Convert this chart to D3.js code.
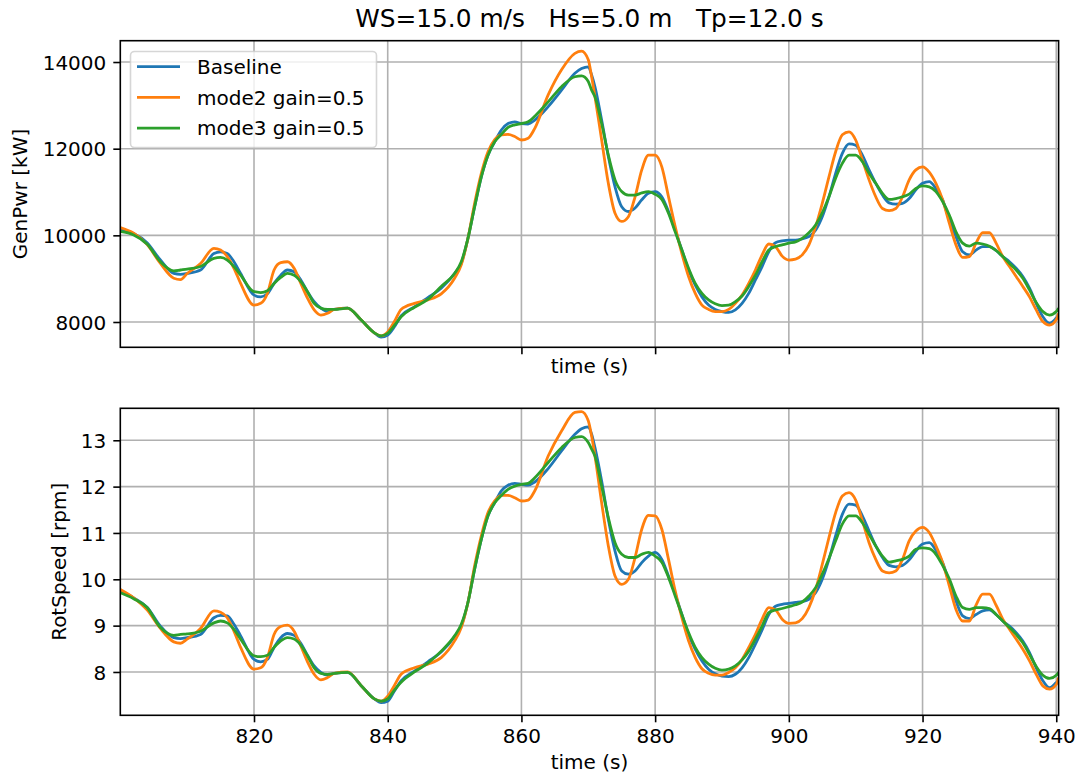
<!DOCTYPE html>
<html lang="en">
<head>
    <meta charset="UTF-8">
    <title>GenPwr / RotSpeed</title>
    <script src="https://cdn.jsdelivr.net/npm/d3@7/dist/d3.min.js"></script>
    <style>
        body {margin: 0; background: #fff;}
        svg text {font-family: "DejaVu Sans", sans-serif; fill: #000;}
    </style>
</head>
<body>

<svg width="1081" height="778"></svg>

<script>

    //数据
    var time = [
        800, 802, 804, 806, 808, 809, 810, 812, 814, 815,
        816, 817, 818, 820, 821, 822, 823, 824, 825, 826,
        827, 828, 829, 830, 831, 832, 834, 836, 838, 839,
        840, 841, 842, 844, 846, 848, 850, 851, 852, 853,
        854, 855, 856, 857, 858, 859, 860, 861, 862, 864,
        866, 868, 869, 870, 870.5, 871, 872, 873, 874, 875,
        876, 877, 878, 879, 880, 881, 882, 883, 884, 885,
        886, 887, 888, 889, 890, 891, 892, 893, 894, 895,
        896, 897, 898, 899, 900, 901, 902, 903, 904, 905,
        906, 907, 908, 909, 910, 911, 912, 913, 914, 915,
        916, 917, 918, 919, 920, 921, 922, 923, 924, 925,
        926, 927, 928, 929, 930, 931, 932, 933, 934, 935,
        936, 937, 938, 939, 940, 940.35
    ];

    var genBase = [
        10130, 10040, 9830, 9430, 9120, 9100, 9120, 9200, 9580, 9620,
        9580, 9390, 9120, 8620, 8580, 8650, 8890, 9080, 9200, 9160,
        8970, 8700, 8470, 8320, 8240, 8290, 8320, 8050, 7750, 7650,
        7700, 7890, 8140, 8350, 8560, 8780, 9120, 9350, 9930, 10660,
        11350, 11850, 12160, 12430, 12580, 12620, 12580, 12570, 12660, 12970,
        13350, 13740, 13850, 13890, 13700, 13430, 12660, 11820, 11120, 10660,
        10550, 10630, 10820, 10970, 11010, 10890, 10550, 10120, 9660, 9200,
        8850, 8580, 8390, 8290, 8240, 8220, 8280, 8430, 8660, 8970,
        9280, 9620, 9830, 9870, 9890, 9890, 9920, 9970, 10120, 10430,
        10890, 11430, 11890, 12110, 12080, 11850, 11510, 11200, 10930, 10750,
        10720, 10740, 10850, 11050, 11200, 11240, 11080, 10820, 10350, 9970,
        9620, 9550, 9660, 9740, 9740, 9650, 9510, 9390, 9240, 9050,
        8780, 8430, 8120, 7970, 8090, 8150
    ];
    var genMode2 = [
        10180, 10050, 9790, 9350, 9010, 8980, 9120, 9350, 9700, 9660,
        9510, 9240, 8890, 8390, 8430, 8660, 9200, 9370, 9390, 9240,
        8890, 8550, 8280, 8160, 8200, 8290, 8320, 8050, 7750, 7680,
        7770, 8010, 8290, 8430, 8510, 8650, 9010, 9320, 9930, 10740,
        11430, 11930, 12210, 12320, 12330, 12280, 12200, 12240, 12470, 13240,
        13820, 14200, 14250, 14050, 13660, 13200, 12200, 11200, 10510, 10320,
        10430, 10890, 11510, 11850, 11850, 11580, 10890, 10200, 9580, 9050,
        8660, 8390, 8290, 8240, 8240, 8290, 8430, 8620, 8890, 9200,
        9550, 9800, 9740, 9520, 9430, 9450, 9550, 9780, 10200, 10740,
        11350, 11930, 12320, 12390, 12200, 11740, 11280, 10890, 10620, 10570,
        10620, 10890, 11280, 11510, 11580, 11460, 11200, 10820, 10280, 9780,
        9490, 9510, 9820, 10060, 10060, 9820, 9510, 9280, 9050, 8820,
        8580, 8280, 8010, 7930, 8050, 8200
    ];
    var genMode3 = [
        10090, 10010, 9800, 9390, 9180, 9200, 9220, 9280, 9470, 9490,
        9430, 9280, 9080, 8700, 8680, 8720, 8890, 9030, 9120, 9080,
        8930, 8700, 8430, 8320, 8290, 8290, 8320, 8050, 7750, 7680,
        7740, 7920, 8120, 8340, 8520, 8820, 9120, 9390, 9930, 10660,
        11350, 11850, 12160, 12330, 12490, 12550, 12580, 12620, 12750, 13080,
        13430, 13660, 13680, 13550, 13350, 13200, 12580, 11850, 11280, 11010,
        10930, 10930, 10980, 11010, 10950, 10830, 10510, 10080, 9660, 9240,
        8890, 8660, 8510, 8420, 8380, 8390, 8470, 8600, 8820, 9080,
        9390, 9660, 9740, 9780, 9820, 9850, 9930, 10060, 10240, 10520,
        10890, 11320, 11660, 11850, 11850, 11700, 11430, 11200, 10970, 10830,
        10850, 10890, 10950, 11080, 11140, 11120, 11010, 10780, 10470, 10080,
        9820, 9750, 9820, 9800, 9750, 9650, 9510, 9350, 9200, 9010,
        8740, 8450, 8240, 8160, 8240, 8320
    ];

    var rotBase = [
        9.75, 9.60, 9.40, 8.99, 8.74, 8.72, 8.74, 8.81, 9.17, 9.22,
        9.21, 9.03, 8.78, 8.27, 8.22, 8.27, 8.53, 8.74, 8.83, 8.79,
        8.62, 8.36, 8.13, 7.99, 7.93, 7.97, 7.99, 7.71, 7.42, 7.34,
        7.37, 7.59, 7.81, 8.02, 8.22, 8.43, 8.76, 8.99, 9.50, 10.22,
        10.86, 11.37, 11.65, 11.91, 12.03, 12.07, 12.05, 12.03, 12.10, 12.39,
        12.77, 13.13, 13.25, 13.29, 13.13, 12.84, 12.12, 11.29, 10.61, 10.18,
        10.11, 10.18, 10.36, 10.50, 10.58, 10.43, 10.07, 9.68, 9.24, 8.81,
        8.49, 8.24, 8.06, 7.96, 7.91, 7.90, 7.95, 8.09, 8.31, 8.60,
        8.91, 9.24, 9.42, 9.46, 9.48, 9.50, 9.52, 9.57, 9.71, 10.00,
        10.43, 10.94, 11.40, 11.62, 11.60, 11.37, 11.04, 10.72, 10.47, 10.30,
        10.27, 10.30, 10.42, 10.61, 10.76, 10.79, 10.63, 10.36, 9.93, 9.53,
        9.21, 9.15, 9.24, 9.32, 9.34, 9.24, 9.10, 8.99, 8.85, 8.67,
        8.42, 8.09, 7.81, 7.66, 7.77, 7.81
    ];
    var rotMode2 = [
        9.78, 9.60, 9.34, 8.94, 8.65, 8.62, 8.71, 8.94, 9.32, 9.29,
        9.17, 8.88, 8.53, 8.06, 8.09, 8.31, 8.81, 8.98, 9.01, 8.88,
        8.56, 8.22, 7.95, 7.83, 7.88, 7.97, 8.00, 7.71, 7.42, 7.37,
        7.48, 7.71, 7.95, 8.09, 8.17, 8.31, 8.67, 8.96, 9.50, 10.29,
        10.94, 11.44, 11.69, 11.81, 11.81, 11.76, 11.69, 11.71, 11.91, 12.66,
        13.20, 13.60, 13.62, 13.42, 13.09, 12.66, 11.65, 10.72, 10.07, 9.89,
        10.00, 10.47, 11.08, 11.38, 11.37, 11.08, 10.43, 9.75, 9.17, 8.67,
        8.31, 8.07, 7.97, 7.93, 7.93, 7.99, 8.09, 8.27, 8.53, 8.81,
        9.14, 9.39, 9.34, 9.14, 9.05, 9.06, 9.15, 9.39, 9.78, 10.32,
        10.90, 11.44, 11.80, 11.87, 11.71, 11.26, 10.79, 10.43, 10.18, 10.14,
        10.18, 10.43, 10.83, 11.04, 11.12, 11.01, 10.72, 10.36, 9.86, 9.35,
        9.10, 9.10, 9.44, 9.68, 9.68, 9.44, 9.14, 8.92, 8.71, 8.49,
        8.24, 7.95, 7.70, 7.63, 7.73, 7.88
    ];
    var rotMode3 = [
        9.71, 9.58, 9.39, 8.96, 8.79, 8.81, 8.82, 8.88, 9.06, 9.10,
        9.06, 8.92, 8.71, 8.35, 8.33, 8.36, 8.53, 8.67, 8.74, 8.71,
        8.58, 8.35, 8.09, 7.97, 7.95, 7.97, 7.99, 7.71, 7.42, 7.37,
        7.42, 7.61, 7.78, 8.00, 8.19, 8.45, 8.78, 9.03, 9.50, 10.22,
        10.86, 11.37, 11.65, 11.81, 11.94, 12.01, 12.05, 12.07, 12.19, 12.52,
        12.84, 13.06, 13.08, 12.95, 12.81, 12.66, 12.01, 11.33, 10.79, 10.54,
        10.47, 10.47, 10.54, 10.58, 10.50, 10.37, 10.04, 9.64, 9.24, 8.85,
        8.53, 8.31, 8.17, 8.08, 8.04, 8.06, 8.13, 8.26, 8.45, 8.71,
        8.99, 9.28, 9.34, 9.37, 9.41, 9.45, 9.51, 9.64, 9.82, 10.11,
        10.45, 10.83, 11.19, 11.37, 11.37, 11.22, 10.97, 10.72, 10.50, 10.37,
        10.40, 10.43, 10.50, 10.65, 10.68, 10.66, 10.54, 10.30, 10.01, 9.64,
        9.39, 9.35, 9.39, 9.39, 9.37, 9.24, 9.10, 8.96, 8.81, 8.63,
        8.38, 8.12, 7.93, 7.86, 7.93, 7.99
    ];

    var seriesNames = ["Baseline", "mode2 gain=0.5", "mode3 gain=0.5"];
    var seriesColors = ["#1f77b4", "#ff7f0e", "#2ca02c"];
    var xTicks = [820, 840, 860, 880, 900, 920, 940];
    var genTicks = [8000, 10000, 12000, 14000];
    var rotTicks = [8, 9, 10, 11, 12, 13];
    var titleText = "WS=15.0 m/s   Hs=5.0 m   Tp=12.0 s";

    var svg = d3.select("svg");
    var left = 120.3, right = 1058.6;

    var x = d3.scaleLinear().domain([800, 940.35]).range([left, right]);

    //标题
    svg.append("text")
        .attr("x", (left + right) / 2)
        .attr("y", 27)
        .attr("text-anchor", "middle")
        .style("white-space", "pre")
        .style("font-size", "24.8px")
        .text(titleText);

    function drawPanel(id, top, bottom, yDomain, yTicks, yLabel, yLabelX, lines, showXLabels, showLegend) {
        var y = d3.scaleLinear().domain(yDomain).range([bottom, top]);
        var g = svg.append("g");

        g.append("clipPath").attr("id", "clip" + id)
            .append("rect")
            .attr("x", left).attr("y", top)
            .attr("width", right - left).attr("height", bottom - top);

        //网格
        var grid = g.append("g").attr("stroke", "#b0b0b0").attr("stroke-width", 1.6);
        grid.selectAll(".vx").data(xTicks).enter().append("line")
            .attr("x1", function (d) { return x(d); }).attr("x2", function (d) { return x(d); })
            .attr("y1", top).attr("y2", bottom);
        grid.selectAll(".hy").data(yTicks).enter().append("line")
            .attr("x1", left).attr("x2", right)
            .attr("y1", function (d) { return y(d); }).attr("y2", function (d) { return y(d); });

        //曲线
        var line = d3.line()
            .x(function (d, i) { return x(time[i]); })
            .y(function (d) { return y(d); })
            .curve(d3.curveMonotoneX);

        g.append("g").attr("clip-path", "url(#clip" + id + ")")
            .selectAll("path")
            .data(lines)
            .enter()
            .append("path")
            .attr("d", function (d) { return line(d); })
            .attr("fill", "none")
            .attr("stroke", function (d, i) { return seriesColors[i]; })
            .attr("stroke-width", 2.8)
            .attr("stroke-linejoin", "round");

        //坐标轴
        var xAxis = d3.axisBottom(x).tickValues(xTicks).tickSize(7).tickSizeOuter(0).tickPadding(7)
            .tickFormat(showXLabels ? d3.format("d") : function () { return ""; });
        var yAxis = d3.axisLeft(y).tickValues(yTicks).tickSize(7).tickSizeOuter(0).tickPadding(7)
            .tickFormat(d3.format("d"));

        var gx = g.append("g").attr("transform", "translate(0," + bottom + ")").call(xAxis);
        var gy = g.append("g").attr("transform", "translate(" + left + ",0)").call(yAxis);
        [gx, gy].forEach(function (a) {
            a.select(".domain").remove();
            a.selectAll(".tick line").attr("stroke", "#000").attr("stroke-width", 1.6);
            a.selectAll(".tick text").attr("fill", "#000")
                .style("font-size", "20px").style("font-family", "DejaVu Sans, sans-serif");
        });
        gy.selectAll(".tick text").attr("dy", "0.36em");

        //边框
        g.append("rect")
            .attr("x", left).attr("y", top)
            .attr("width", right - left).attr("height", bottom - top)
            .attr("fill", "none").attr("stroke", "#000").attr("stroke-width", 1.6);

        g.append("text")
            .attr("x", (left + right) / 2)
            .attr("y", bottom + (showXLabels ? 54 : 26))
            .attr("text-anchor", "middle")
            .style("font-size", "20px")
            .text("time (s)");

        g.append("text")
            .attr("transform", "translate(" + yLabelX + "," + ((top + bottom) / 2) + ") rotate(-90)")
            .attr("text-anchor", "middle")
            .style("font-size", "20px")
            .text(yLabel);

        //图例
        if (showLegend) {
            var lg = g.append("g");
            lg.append("rect")
                .attr("x", 130.5).attr("y", 51.5)
                .attr("width", 246).attr("height", 96)
                .attr("rx", 4).attr("ry", 4)
                .attr("fill", "#fff").attr("fill-opacity", 0.8)
                .attr("stroke", "#cccccc").attr("stroke-opacity", 0.8).attr("stroke-width", 1.6);
            var items = lg.selectAll(".item").data(seriesNames).enter().append("g")
                .attr("transform", function (d, i) { return "translate(0," + (66.7 + i * 30.7) + ")"; });
            items.append("line")
                .attr("x1", 137).attr("x2", 180)
                .attr("stroke", function (d, i) { return seriesColors[i]; })
                .attr("stroke-width", 2.8);
            items.append("text")
                .attr("x", 197).attr("dy", "0.36em")
                .style("font-size", "20px")
                .text(function (d) { return d; });
        }
    }

    drawPanel("top", 40.7, 347.3, [7416, 14492], genTicks, "GenPwr [kW]", 27,
        [genBase, genMode2, genMode3], false, true);
    drawPanel("bot", 408.3, 715.3, [7.065, 13.69], rotTicks, "RotSpeed [rpm]", 66,
        [rotBase, rotMode2, rotMode3], true, false);

</script>

</body>
</html>
